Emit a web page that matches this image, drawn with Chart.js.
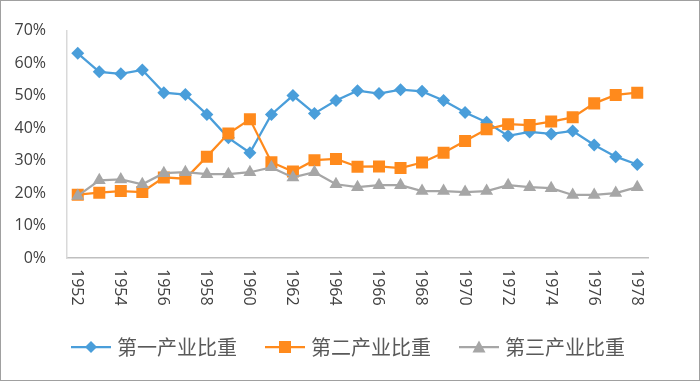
<!DOCTYPE html>
<html>
<head>
<meta charset="utf-8">
<script src="https://cdn.jsdelivr.net/npm/chart.js@4/dist/chart.umd.min.js"></script>
<style>
html,body{margin:0;padding:0;background:#fff;}
#wrap{width:700px;height:381px;position:relative;}
</style>
</head>
<body>
<div id="wrap"><canvas id="c" width="700" height="381"></canvas></div>
<script>
const years = [1952,1953,1954,1955,1956,1957,1958,1959,1960,1961,1962,1963,1964,1965,1966,1967,1968,1969,1970,1971,1972,1973,1974,1975,1976,1977,1978];
const primaryShare = [63.0,57.3,56.7,57.9,50.9,50.3,44.2,37.0,32.4,44.2,50.0,44.5,48.5,51.5,50.6,51.8,51.3,48.5,44.8,41.8,37.6,38.8,38.2,39.1,34.8,31.2,28.8];
const secondaryShare = [19.5,20.1,20.6,20.3,24.8,24.4,31.2,38.3,42.7,29.5,26.6,30.1,30.5,28.1,28.2,27.7,29.4,32.4,36.0,39.6,41.2,40.9,42.0,43.3,47.6,50.2,50.9];
const tertiaryShare = [19.1,23.9,24.2,22.7,26.1,26.4,25.8,25.8,26.4,27.9,24.8,26.4,22.7,21.8,22.4,22.4,20.6,20.6,20.3,20.6,22.4,21.8,21.5,19.4,19.4,20.0,21.8];
const seriesNames = ['第一产业比重','第二产业比重','第三产业比重'];
const yTicks = [0,10,20,30,40,50,60,70];

const BLUE = '#4A9EDA', ORANGE = '#FF8A1C', GRAY = '#A6A6A6';
const TICK_FONT = '"Open Sans", "DejaVu Sans", sans-serif';

function legendIcon(color, style) {
  const cv = document.createElement('canvas');
  cv.width = 40; cv.height = 16;
  const g = cv.getContext('2d');
  g.strokeStyle = color; g.lineWidth = 2.25;
  g.beginPath(); g.moveTo(0, 8); g.lineTo(40, 8); g.stroke();
  g.fillStyle = color;
  g.beginPath();
  if (style === 'diamond') { g.moveTo(20,2); g.lineTo(26,8); g.lineTo(20,14); g.lineTo(14,8); }
  else if (style === 'square') { g.rect(14,2,12,12); }
  else { g.moveTo(20,1.5); g.lineTo(26.5,13.5); g.lineTo(13.5,13.5); }
  g.closePath(); g.fill();
  return cv;
}
const icons = [legendIcon(BLUE,'diamond'), legendIcon(ORANGE,'square'), legendIcon(GRAY,'triangle')];

const frame = {
  id: 'frame',
  afterDraw(chart) {
    const ctx = chart.ctx;
    ctx.save();
    ctx.strokeStyle = '#A0A0A0'; ctx.lineWidth = 1;
    ctx.strokeRect(0.5, 0.5, chart.width - 1, chart.height - 1);
    // rotated x tick labels (reading top to bottom)
    const xs = chart.scales.x;
    ctx.fillStyle = '#404040';
    ctx.font = '16px ' + TICK_FONT;
    ctx.textAlign = 'left'; ctx.textBaseline = 'middle';
    xs.ticks.forEach((t, i) => {
      if (i % 2 !== 0) return;
      const x = xs.getPixelForTick(i);
      ctx.save();
      ctx.translate(x - 1, xs.top + 11);
      ctx.rotate(Math.PI / 2);
      ctx.fillText(String(years[i]), 0, 0);
      ctx.restore();
    });
    ctx.restore();
  }
};

new Chart(document.getElementById('c'), {
  type: 'line',
  data: {
    labels: years,
    datasets: [
      {label: seriesNames[0], data: primaryShare, borderColor: BLUE, backgroundColor: BLUE, pointStyle: 'rectRot', pointRadius: 6.5, borderWidth: 2.25, pointBorderWidth: 0, order: 3, legendIcon: icons[0]},
      {label: seriesNames[1], data: secondaryShare, borderColor: ORANGE, backgroundColor: ORANGE, pointStyle: 'rect', pointRadius: 8.5, borderWidth: 2.25, pointBorderWidth: 0, order: 2, legendIcon: icons[1]},
      {label: seriesNames[2], data: tertiaryShare, borderColor: GRAY, backgroundColor: GRAY, pointStyle: 'triangle', pointRadius: 7.5, borderWidth: 2.25, pointBorderWidth: 0, order: 1, legendIcon: icons[2]}
    ]
  },
  options: {
    responsive: false,
    animation: false,
    layout: {padding: {top: 29, left: 0, right: 0, bottom: 14}},
    scales: {
      x: {
        offset: true,
        grid: {display: false, drawTicks: false},
        border: {display: true, color: '#BFBFBF', width: 1.5},
        ticks: {display: false},
        afterFit(s) { s.height = 47; }
      },
      y: {
        min: 0, max: 70,
        afterBuildTicks(s) { s.ticks = yTicks.map(v => ({value: v})); },
        grid: {display: false, drawTicks: false},
        border: {display: true, color: '#D9D9D9', width: 1.5},
        ticks: {padding: 21, color: '#404040', font: {size: 16, family: TICK_FONT}, callback: v => v + '%'},
        afterFit(s) { s.width = 67; }
      },
      yRightSpace: {
        position: 'right',
        display: true,
        grid: {display: false, drawTicks: false},
        border: {display: false},
        ticks: {display: false},
        afterFit(s) { s.width = 52; }
      }
    },
    plugins: {
      tooltip: {enabled: false},
      legend: {
        position: 'bottom',
        labels: {
          usePointStyle: true,
          pointStyleWidth: 32,
          padding: 32,
          color: '#595959',
          font: {size: 20, family: '"Noto Sans CJK SC", sans-serif'},
          sort: (a, b) => a.datasetIndex - b.datasetIndex,
          generateLabels(chart) {
            return chart.data.datasets.map((d, i) => ({
              text: d.label, datasetIndex: i, pointStyle: d.legendIcon,
              fillStyle: d.backgroundColor, strokeStyle: d.borderColor, lineWidth: 0, hidden: false, fontColor: '#595959'
            }));
          }
        }
      }
    }
  },
  plugins: [frame]
});
</script>
</body>
</html>
